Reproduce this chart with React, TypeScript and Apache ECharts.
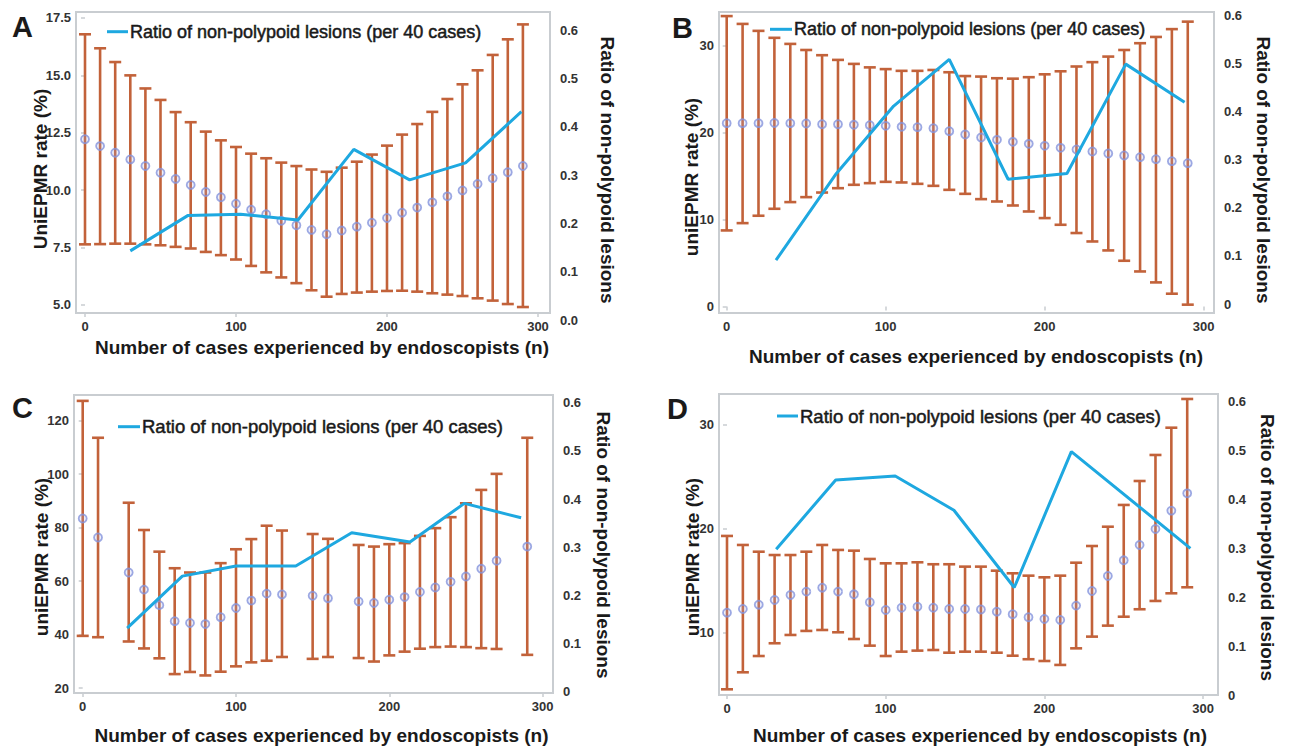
import React, { useEffect, useRef } from "react";
import * as echarts from "echarts";

// ---------------- DATA ----------------
const xAll = [0, 10, 20, 30, 40, 50, 60, 70, 80, 90, 100, 110, 120, 130, 140, 150, 160, 170, 180, 190, 200, 210, 220, 230, 240, 250, 260, 270, 280, 290];

// Panel A
const aMean = [12.22, 11.92, 11.63, 11.34, 11.05, 10.76, 10.49, 10.23, 9.92, 9.69, 9.41, 9.15, 8.95, 8.67, 8.47, 8.27, 8.08, 8.24, 8.41, 8.58, 8.79, 9.02, 9.24, 9.47, 9.73, 9.99, 10.27, 10.52, 10.78, 11.05];
const aUpper = [16.79, 16.18, 15.58, 15.0, 14.43, 13.93, 13.4, 12.96, 12.55, 12.17, 11.88, 11.59, 11.39, 11.2, 11.05, 10.9, 10.8, 10.98, 11.24, 11.55, 11.94, 12.42, 12.88, 13.41, 13.97, 14.61, 15.22, 15.89, 16.57, 17.22];
const aLower = [7.64, 7.65, 7.67, 7.67, 7.64, 7.6, 7.53, 7.46, 7.31, 7.17, 6.98, 6.7, 6.42, 6.2, 5.95, 5.64, 5.36, 5.48, 5.54, 5.58, 5.61, 5.62, 5.58, 5.51, 5.45, 5.39, 5.29, 5.19, 5.04, 4.91];
const aRatioX = [30, 68, 103, 141, 178, 215, 252, 289];
const aRatio = [0.143, 0.216, 0.219, 0.207, 0.353, 0.29, 0.325, 0.431];

// Panel B
const bMean = [21.08, 21.08, 21.08, 21.1, 21.08, 21.04, 20.96, 20.96, 20.89, 20.85, 20.77, 20.66, 20.62, 20.5, 20.16, 19.77, 19.43, 19.16, 18.93, 18.7, 18.47, 18.24, 18.05, 17.82, 17.59, 17.36, 17.17, 16.94, 16.71, 16.48];
const bUpper = [33.4, 32.5, 31.7, 30.9, 30.2, 29.5, 28.9, 28.36, 27.9, 27.5, 27.3, 27.1, 27.1, 27.2, 26.94, 26.5, 26.44, 26.25, 26.2, 26.37, 26.7, 27.05, 27.6, 28.1, 28.74, 29.5, 30.28, 31.0, 31.9, 32.76];
const bLower = [8.74, 9.58, 10.43, 11.23, 12.0, 12.57, 13.1, 13.6, 13.99, 14.18, 14.33, 14.26, 14.1, 13.87, 13.41, 12.95, 12.34, 12.07, 11.61, 10.92, 10.16, 9.39, 8.44, 7.47, 6.44, 5.25, 4.02, 2.76, 1.46, 0.2];
const bRatioX = [31, 69, 105, 140, 177, 214, 251, 288];
const bRatio = [0.091, 0.271, 0.411, 0.508, 0.259, 0.271, 0.498, 0.419];

// Panel C
const cX = [0, 10, 30, 40, 50, 60, 70, 80, 90, 100, 110, 120, 130, 150, 160, 180, 190, 200, 210, 220, 230, 240, 250, 260, 270, 290];
const cMean = [83.4, 76.3, 63.2, 56.8, 51.0, 45.0, 44.3, 43.9, 46.5, 49.9, 52.7, 55.3, 55.0, 54.5, 53.6, 52.4, 51.8, 53.0, 54.0, 55.9, 57.6, 59.7, 61.7, 64.6, 67.6, 72.9];
const cUpper = [127.4, 113.6, 89.3, 79.1, 71.0, 64.8, 63.2, 63.2, 66.7, 71.9, 75.7, 80.7, 78.9, 77.6, 75.8, 73.5, 72.9, 73.8, 74.2, 76.9, 79.8, 83.9, 89.1, 94.1, 100.1, 113.6];
const cLower = [39.5, 39.0, 37.4, 34.8, 31.1, 25.2, 26.0, 24.7, 26.1, 28.1, 29.6, 30.2, 31.6, 30.9, 31.6, 31.2, 29.9, 32.2, 33.6, 34.7, 35.3, 35.5, 35.3, 34.9, 34.6, 32.4];
const cRatioX = [29, 65, 100, 139, 175.5, 213.5, 249, 286];
const cRatio = [0.132, 0.24, 0.261, 0.261, 0.33, 0.311, 0.391, 0.361];

// Panel D
const dMean = [11.89, 12.25, 12.66, 13.11, 13.6, 13.92, 14.3, 13.92, 13.66, 12.89, 12.15, 12.37, 12.47, 12.37, 12.25, 12.25, 12.2, 11.99, 11.74, 11.45, 11.28, 11.19, 12.57, 13.98, 15.43, 16.94, 18.42, 19.96, 21.73, 23.4];
const dUpper = [19.29, 18.42, 17.77, 17.45, 17.45, 17.77, 18.42, 17.94, 17.87, 17.07, 16.65, 16.65, 16.75, 16.56, 16.56, 16.33, 16.33, 15.94, 15.69, 15.46, 15.3, 15.46, 16.71, 18.32, 20.18, 22.28, 24.59, 27.1, 29.73, 32.5];
const dLower = [4.5, 6.14, 7.71, 8.94, 9.74, 10.13, 10.22, 10.0, 9.35, 8.71, 7.71, 8.13, 8.23, 8.29, 8.03, 8.13, 8.13, 8.03, 7.74, 7.4, 7.23, 6.85, 8.45, 9.58, 10.64, 11.5, 12.22, 13.02, 13.76, 14.34];
const dRatioX = [31, 68.5, 106, 143, 181, 217, 292];
const dRatio = [0.298, 0.44, 0.448, 0.378, 0.22, 0.498, 0.3];

// Tick labels
const xTicks = [0, 100, 200, 300];
const aLeftTicks = [5, 7.5, 10, 12.5, 15, 17.5];
const bLeftTicks = [0, 10, 20, 30];
const cLeftTicks = [20, 40, 60, 80, 100, 120];
const dLeftTicks = [10, 20, 30];

const letters = ["A", "B", "C", "D"];
const leftTitles = ["UniEPMR rate (%)", "uniEPMR rate (%)", "uniEPMR rate (%)", "uniEPMR rate (%)"];
const rightTitle = "Ratio of non-polypoid lesions";
const xTitle = "Number of cases experienced by endoscopists (n)";
const legendText = "Ratio of non-polypoid lesions (per 40 cases)";

// ---------------- STYLE / LAYOUT ----------------
const FONT = '"Liberation Sans", Arial, Helvetica, sans-serif';
const BAR = "#c2623a";
const DOT = "#8494dc";
const LINE = "#1ea8e0";
const FRAME = "#c9cdd1";
const TICKTXT = "#333333";
const TITLE = "#1a1a1a";

type Panel = {
  x: number[];
  mean: number[];
  upper: number[];
  lower: number[];
  rx: number[];
  ry: number[];
  leftTicks: number[];
  leftFmt: (v: number) => string;
  rightFmt: (v: number) => string;
  frame: { left: number; top: number; width: number; height: number };
  xr: [number, number];
  yl: [number, number];
  right: { top: number; height: number };
  letterPos: [number, number];
  leftTitlePos: [number, number];
  rightTitlePos: [number, number];
  xTitlePos: [number, number];
  legend: { x1: number; x2: number; y: number; tx: number; fs: number };
};

const fmt1 = (v: number) => v.toFixed(1);
const fmt0 = (v: number) => String(Math.round(v));
const rFmtA = (v: number) => v.toFixed(1);
const rFmt = (v: number) => (Math.abs(v) < 1e-9 ? "0" : v.toFixed(1));

const panels: Panel[] = [
  {
    x: xAll, mean: aMean, upper: aUpper, lower: aLower, rx: aRatioX, ry: aRatio,
    leftTicks: aLeftTicks, leftFmt: fmt1, rightFmt: rFmtA,
    frame: { left: 76, top: 12, width: 474, height: 301 },
    xr: [-5.96, 307.95], yl: [4.65, 17.76],
    right: { top: 30, height: 290 },
    letterPos: [22.5, 27], leftTitlePos: [40, 169], rightTitlePos: [607, 170], xTitlePos: [322, 347],
    legend: { x1: 107, x2: 128, y: 31.7, tx: 130, fs: 18 },
  },
  {
    x: xAll, mean: bMean, upper: bUpper, lower: bLower, rx: bRatioX, ry: bRatio,
    leftTicks: bLeftTicks, leftFmt: fmt0, rightFmt: rFmt,
    frame: { left: 719, top: 12, width: 495, height: 301 },
    xr: [-4.84, 306.5], yl: [-0.76, 33.87],
    right: { top: 15, height: 289 },
    letterPos: [682.5, 27.5], leftTitlePos: [691.5, 177], rightTitlePos: [1263.5, 170], xTitlePos: [976, 356],
    legend: { x1: 770, x2: 792, y: 29.3, tx: 794, fs: 18 },
  },
  {
    x: cX, mean: cMean, upper: cUpper, lower: cLower, rx: cRatioX, ry: cRatio,
    leftTicks: cLeftTicks, leftFmt: fmt0, rightFmt: rFmt,
    frame: { left: 74, top: 395, width: 479, height: 298 },
    xr: [-5.68, 306.8], yl: [18.13, 129.6],
    right: { top: 402.7, height: 289 },
    letterPos: [22.5, 407.5], leftTitlePos: [41.5, 557], rightTitlePos: [603.5, 545], xTitlePos: [321.5, 735],
    legend: { x1: 118, x2: 140, y: 426.7, tx: 142, fs: 18.5 },
  },
  {
    x: xAll, mean: dMean, upper: dUpper, lower: dLower, rx: dRatioX, ry: dRatio,
    leftTicks: dLeftTicks, leftFmt: fmt0, rightFmt: rFmt,
    frame: { left: 719, top: 394, width: 499, height: 301 },
    xr: [-5.04, 309.4], yl: [3.95, 32.98],
    right: { top: 401.7, height: 293.3 },
    letterPos: [677.5, 409], leftTitlePos: [692.5, 557], rightTitlePos: [1267, 547.5], xTitlePos: [980, 735],
    legend: { x1: 777, x2: 798, y: 416, tx: 800, fs: 18.5 },
  },
];

function textEl(text: string, x: number, y: number, size: number, weight: string, rotation = 0, align = "center", stroke = 0) {
  const style: any = {
    text,
    fill: TITLE,
    fontFamily: FONT,
    fontSize: size,
    fontWeight: weight,
    align,
    verticalAlign: "middle",
    textAlign: align,
    textVerticalAlign: "middle",
  };
  if (stroke > 0) {
    style.stroke = TITLE;
    style.lineWidth = stroke;
  }
  return { type: "text", x, y, rotation, silent: true, style };
}

function buildOption() {
  const grid: any[] = [];
  const xAxis: any[] = [];
  const yAxis: any[] = [];
  const series: any[] = [];
  const graphic: any[] = [];

  panels.forEach((p, i) => {
    const gFrame = i * 2;
    const gRight = i * 2 + 1;
    grid.push({
      left: p.frame.left, top: p.frame.top, width: p.frame.width, height: p.frame.height,
      show: true, borderColor: FRAME, borderWidth: 2, backgroundColor: "transparent",
      containLabel: false, outerBoundsMode: "none",
    });
    grid.push({
      left: p.frame.left, top: p.right.top, width: p.frame.width, height: p.right.height,
      show: false, containLabel: false, outerBoundsMode: "none",
    });
    xAxis.push({
      type: "value", gridIndex: gFrame, min: p.xr[0], max: p.xr[1],
      axisLine: { show: false }, splitLine: { show: false },
      axisTick: { show: true, customValues: xTicks, length: 4, lineStyle: { color: FRAME, width: 1.5 } },
      axisLabel: {
        show: true, customValues: xTicks, margin: 7, color: TICKTXT, fontFamily: FONT,
        fontSize: 13, fontWeight: "bold", formatter: (v: number) => String(Math.round(v)),
      },
    });
    xAxis.push({
      type: "value", gridIndex: gRight, min: p.xr[0], max: p.xr[1], show: false,
      axisLine: { show: false }, splitLine: { show: false }, axisTick: { show: false }, axisLabel: { show: false },
    });
    yAxis.push({
      type: "value", gridIndex: gFrame, position: "left", min: p.yl[0], max: p.yl[1],
      axisLine: { show: false }, splitLine: { show: false },
      axisTick: { show: true, customValues: p.leftTicks, length: 4, lineStyle: { color: FRAME, width: 1.5 } },
      axisLabel: {
        show: true, customValues: p.leftTicks, margin: 5, color: TICKTXT, fontFamily: FONT,
        fontSize: 13, fontWeight: "bold", formatter: p.leftFmt,
      },
    });
    yAxis.push({
      type: "value", gridIndex: gRight, position: "right", min: 0, max: 0.6, interval: 0.1,
      axisLine: { show: false }, splitLine: { show: false }, axisTick: { show: false },
      axisLabel: {
        show: true, margin: 10, color: TICKTXT, fontFamily: FONT, fontSize: 13, fontWeight: "bold",
        formatter: p.rightFmt,
      },
    });

    const errData = p.x.map((x, k) => [x, p.lower[k], p.upper[k]]);
    series.push({
      type: "custom",
      name: "95% CI " + letters[i],
      xAxisIndex: gFrame,
      yAxisIndex: gFrame,
      data: errData,
      encode: { x: 0, y: [1, 2] },
      z: 2,
      silent: true,
      renderItem: (params: any, api: any) => {
        const x = api.value(0);
        const lo = api.value(1);
        const hi = api.value(2);
        const pt = api.coord([x, hi]);
        const pb = api.coord([x, lo]);
        const w = 6;
        const style = { stroke: BAR, lineWidth: 2.6, fill: "none" };
        return {
          type: "group",
          children: [
            { type: "line", shape: { x1: pt[0], y1: pt[1], x2: pb[0], y2: pb[1] }, style },
            { type: "line", shape: { x1: pt[0] - w, y1: pt[1], x2: pt[0] + w, y2: pt[1] }, style },
            { type: "line", shape: { x1: pb[0] - w, y1: pb[1], x2: pb[0] + w, y2: pb[1] }, style },
          ],
        };
      },
    });
    series.push({
      type: "scatter",
      name: "uniEPMR rate " + letters[i],
      xAxisIndex: gFrame,
      yAxisIndex: gFrame,
      data: p.x.map((x, k) => [x, p.mean[k]]),
      symbol: "circle",
      symbolSize: 8,
      z: 3,
      silent: true,
      itemStyle: { color: "rgba(170,180,235,0.25)", borderColor: DOT, borderWidth: 1.8 },
    });
    series.push({
      type: "line",
      name: legendText,
      xAxisIndex: gRight,
      yAxisIndex: gRight,
      data: p.rx.map((x, k) => [x, p.ry[k]]),
      showSymbol: false,
      symbol: "none",
      z: 4,
      silent: true,
      lineStyle: { color: LINE, width: 3 },
    });

    // texts
    graphic.push(textEl(letters[i], p.letterPos[0], p.letterPos[1], 29, "bold"));
    graphic.push(textEl(leftTitles[i], p.leftTitlePos[0], p.leftTitlePos[1], 19, "bold", Math.PI / 2));
    graphic.push(textEl(rightTitle, p.rightTitlePos[0], p.rightTitlePos[1], 19, "bold", -Math.PI / 2));
    graphic.push(textEl(xTitle, p.xTitlePos[0], p.xTitlePos[1], 19, "bold"));
    graphic.push({
      type: "line",
      silent: true,
      shape: { x1: p.legend.x1, y1: p.legend.y, x2: p.legend.x2, y2: p.legend.y },
      style: { stroke: LINE, lineWidth: 3 },
    });
    graphic.push(textEl(legendText, p.legend.tx, p.legend.y, p.legend.fs, "normal", 0, "left", 0.5));
  });

  return {
    animation: false,
    backgroundColor: "#ffffff",
    textStyle: { fontFamily: FONT },
    grid,
    xAxis,
    yAxis,
    series,
    graphic,
  };
}

export default function App() {
  const ref = useRef<HTMLDivElement>(null);
  useEffect(() => {
    if (!ref.current) return;
    const chart = echarts.init(ref.current, undefined, { renderer: "svg" });
    chart.setOption(buildOption() as any);
    return () => {
      chart.dispose();
    };
  }, []);
  return (
    <div
      ref={ref}
      style={{ position: "fixed", left: 0, top: 0, width: 1292, height: 747, background: "#fff" }}
    />
  );
}
